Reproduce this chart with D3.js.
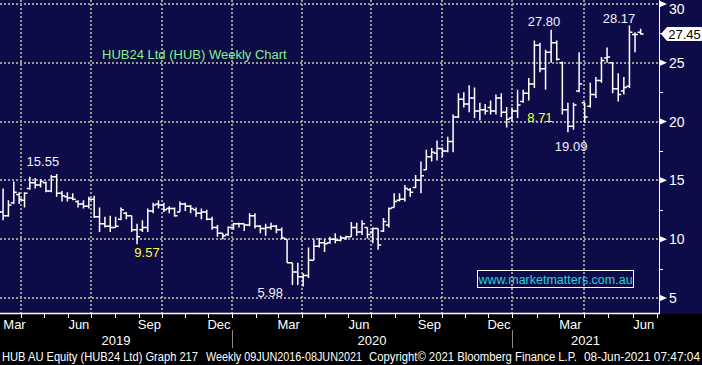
<!DOCTYPE html>
<html>
<head>
<meta charset="utf-8">
<script src="https://cdn.jsdelivr.net/npm/d3@7"></script>
<style>
  html, body { margin: 0; padding: 0; background: #000; }
  svg { display: block; font-family: "Liberation Sans", Arial, sans-serif; }
</style>
</head>
<body>
<svg id="chart" width="702" height="365"></svg>
<script>
// weekly bars, first bar dated Fri 1 Mar 2019
const barStart = new Date(2019, 2, 1);

const opens = [
  12.5, 12.3, 12.0, 13.1, 13.8, 13.3, 14.3, 14.8, 14.6, 14.8,
  14.1, 15.3, 13.9, 13.6, 13.5, 13.2, 13.0, 12.8, 13.4, 11.9,
  11.3, 11.1, 11.0, 11.7, 12.2, 12.0, 10.8, 10.8, 11.0, 12.4,
  13.0, 12.9, 12.6, 12.6, 12.3, 13.0, 12.8, 12.5, 12.2, 12.3,
  11.7, 11.0, 10.5, 10.4, 11.0, 11.3, 11.3, 11.2, 12.0, 11.1,
  10.9, 11.0, 11.1, 10.8, 10.0, 8.0, 7.2, 6.8, 6.9, 8.2,
  9.4, 9.7, 9.7, 10.0, 9.9, 10.1, 10.2, 11.0, 10.6, 11.0,
  10.6, 10.9, 10.7, 11.2, 12.7, 13.3, 13.4, 14.2, 14.4, 15.0,
  15.9, 17.0, 17.3, 17.7, 17.5, 18.3, 20.4, 21.9, 21.5, 22.0,
  20.9, 21.0, 21.2, 20.9, 22.0, 20.8, 20.3, 20.9, 21.7, 22.4,
  23.2, 26.5, 24.5, 25.9, 26.7, 25.0, 21.0, 19.6, 22.6, 21.6,
  21.3, 22.3, 23.5, 25.4, 25.0, 22.8, 22.6, 23.0, 27.4, 27.6
];
const highs = [
  13.6, 14.3, 13.3, 14.9, 14.0, 14.0, 15.3, 15.2, 15.1, 14.9,
  15.45, 15.55, 14.1, 14.0, 13.9, 13.3, 13.3, 13.6, 13.7, 12.7,
  11.9, 12.0, 11.9, 12.7, 12.3, 12.0, 11.3, 11.6, 12.6, 13.1,
  13.3, 13.1, 12.8, 12.7, 13.2, 13.1, 12.9, 12.7, 12.6, 12.5,
  11.9, 11.2, 10.5, 11.1, 11.4, 11.4, 11.3, 12.2, 12.2, 11.2,
  11.3, 11.4, 11.2, 11.0, 10.0, 8.0, 8.0, 7.1, 9.3, 10.0,
  10.1, 10.0, 10.2, 10.5, 10.3, 10.3, 11.45, 11.4, 11.6, 11.0,
  11.0, 10.9, 11.8, 12.7, 13.9, 13.9, 14.6, 14.35, 15.45, 16.6,
  17.6, 17.75, 18.4, 17.8, 18.7, 20.6, 22.4, 22.5, 23.1, 22.9,
  21.6, 21.5, 21.8, 22.3, 22.4, 21.25, 21.2, 22.7, 22.7, 23.7,
  26.9, 26.7, 26.1, 27.8, 26.9, 25.1, 21.6, 21.6, 25.9, 21.6,
  23.3, 23.8, 25.5, 26.3, 25.0, 24.1, 23.8, 28.17, 27.6, 27.9
];
const lows = [
  12.0, 11.6, 11.9, 13.0, 13.0, 12.7, 14.2, 14.3, 14.4, 14.0,
  14.0, 13.6, 13.2, 13.2, 13.3, 12.7, 12.6, 12.6, 11.8, 10.6,
  11.0, 10.6, 11.0, 11.6, 11.7, 10.6, 9.57, 10.6, 10.6, 12.2,
  12.6, 12.3, 12.2, 11.9, 12.3, 12.4, 12.2, 11.9, 11.7, 11.6,
  10.8, 10.2, 10.0, 10.3, 10.8, 11.0, 10.7, 11.1, 10.9, 10.5,
  10.3, 10.8, 10.5, 10.0, 8.0, 6.1, 6.1, 5.98, 6.7, 8.2,
  9.3, 8.9, 9.6, 9.65, 9.8, 9.95, 10.2, 10.3, 10.35, 10.05,
  9.65, 9.1, 10.6, 11.0, 12.7, 13.2, 13.2, 13.6, 14.35, 13.9,
  15.9, 16.6, 16.7, 17.0, 17.4, 17.4, 20.3, 21.2, 20.8, 20.3,
  20.1, 20.6, 20.6, 20.6, 20.4, 19.5, 20.0, 20.3, 21.6, 21.8,
  22.85, 24.2, 22.7, 25.0, 25.2, 20.6, 19.09, 19.3, 22.5, 19.9,
  21.2, 22.0, 23.3, 25.0, 22.4, 21.7, 22.3, 22.85, 25.9, 27.4
];
const closes = [
  12.3, 12.0, 12.9, 14.0, 13.4, 13.9, 14.8, 14.6, 14.9, 14.1,
  15.3, 13.9, 13.7, 13.5, 13.4, 13.0, 12.8, 13.4, 11.9, 11.3,
  11.1, 11.0, 11.1, 12.5, 12.0, 10.8, 10.2, 11.0, 12.4, 12.9,
  12.9, 12.5, 12.6, 12.0, 13.0, 12.8, 12.6, 12.2, 12.3, 11.7,
  11.0, 10.5, 10.3, 11.0, 11.3, 11.3, 11.2, 12.0, 11.1, 10.9,
  11.0, 11.1, 10.8, 10.1, 8.0, 7.2, 6.8, 6.9, 8.2, 9.4,
  9.7, 9.6, 10.0, 9.9, 10.1, 10.2, 11.0, 10.6, 11.3, 10.4,
  10.9, 9.5, 11.5, 12.6, 13.2, 13.4, 14.3, 14.0, 15.0, 15.4,
  17.0, 17.4, 17.7, 17.5, 18.3, 20.4, 21.9, 21.5, 22.0, 20.9,
  21.0, 20.9, 20.9, 22.0, 20.8, 20.2, 20.9, 21.4, 22.4, 23.2,
  26.5, 24.5, 25.9, 26.7, 25.3, 21.0, 19.6, 21.4, 23.2, 20.4,
  22.3, 23.5, 25.2, 25.5, 22.8, 22.3, 22.9, 27.6, 27.4, 27.45
];

const yTicks = [5, 10, 15, 20, 25, 30];
const yMinorTicks = [7.5, 12.5, 17.5, 22.5, 27.5];
const monthNames = ["Jan", "Feb", "Mar", "Apr", "May", "Jun", "Jul", "Aug", "Sep", "Oct", "Nov", "Dec"];
const years = [2019, 2020, 2021];
const lastPrice = 27.45;

// price call-outs: text, date and value of the label centre
const noteTexts = ["15.55", "9.57", "5.98", "8.71", "27.80", "19.09", "28.17"];
const noteDates = [
  new Date(2019, 3, 29), new Date(2019, 8, 12), new Date(2020, 1, 20), new Date(2021, 1, 5),
  new Date(2021, 1, 10), new Date(2021, 2, 16), new Date(2021, 4, 15)
];
const noteValues = [16.65, 8.91, 5.51, 20.39, 28.55, 17.93, 28.81];
const yellowNotes = ["9.57", "8.71"];

const svg = d3.select("#chart");
const width = 702, height = 365;
const plotRight = 659, plotBottom = 314;

const x = d3.scaleTime()
  .domain([new Date(2019, 2, 4), new Date(2020, 0, 1), new Date(2021, 0, 1), new Date(2021, 6, 4)])
  .range([0, 232, 512, plotRight]);
const y = d3.scaleLinear().domain([3.72, 30.34]).range([313, 0]);
const xStart = x.domain()[0], xEnd = x.domain()[3];

const weeks = closes.map((c, i) => ({
  date: d3.timeDay.offset(barStart, 7 * i),
  o: opens[i], h: highs[i], l: lows[i], c: c
}));

svg.append("rect").attr("width", width).attr("height", height).attr("fill", "#000");
svg.append("rect").attr("width", width).attr("height", plotBottom).attr("fill", "#0e0c48");

svg.append("defs").append("clipPath").attr("id", "plotClip")
  .append("rect").attr("width", plotRight).attr("height", plotBottom);

// dotted grid
const quarters = d3.timeMonth.every(3).range(xStart, xEnd)
  .filter(d => x(d) < plotRight - 5);
const grid = svg.append("g")
  .attr("stroke", "#9a9a9a")
  .attr("stroke-width", 2)
  .attr("stroke-dasharray", "2,2");
grid.selectAll("line.h")
  .data(yTicks)
  .join("line")
  .attr("class", "h")
  .attr("x1", 0).attr("x2", plotRight)
  .attr("y1", d => Math.round(y(d))).attr("y2", d => Math.round(y(d)));
grid.selectAll("line.v")
  .data(quarters)
  .join("line")
  .attr("class", "v")
  .attr("x1", d => Math.round(x(d))).attr("x2", d => Math.round(x(d)))
  .attr("y1", 0).attr("y2", plotBottom);

// OHLC bars
svg.append("g")
  .attr("clip-path", "url(#plotClip)")
  .selectAll("path")
  .data(weeks)
  .join("path")
  .attr("fill", "none")
  .attr("stroke", "#fff")
  .attr("stroke-width", 1.5)
  .attr("d", d => {
    const bx = x(d.date);
    return `M${bx},${y(d.h)}V${y(d.l)}M${bx - 3},${y(d.o)}H${bx}M${bx},${y(d.c)}H${bx + 3}`;
  });

// title and watermark
svg.append("text")
  .attr("x", 102).attr("y", 59)
  .attr("font-size", 13)
  .attr("fill", "#84f08c")
  .text("HUB24 Ltd (HUB) Weekly Chart");

svg.append("rect")
  .attr("x", 477.5).attr("y", 270.5)
  .attr("width", 156).attr("height", 17)
  .attr("fill", "none").attr("stroke", "#fff");
svg.append("text")
  .attr("x", 555.5).attr("y", 284)
  .attr("text-anchor", "middle")
  .attr("font-size", 12.5)
  .attr("fill", "#22d3dc")
  .text("www.marketmatters.com.au");

// call-outs
svg.append("g")
  .selectAll("text")
  .data(noteTexts)
  .join("text")
  .attr("x", (d, i) => x(noteDates[i]))
  .attr("y", (d, i) => y(noteValues[i]))
  .attr("dy", "0.36em")
  .attr("text-anchor", "middle")
  .attr("font-size", 13)
  .attr("fill", d => yellowNotes.includes(d) ? "#ffff30" : "#eef2ff")
  .text(d => d);

// right axis
const axisG = svg.append("g");
axisG.append("line")
  .attr("x1", plotRight + 0.5).attr("x2", plotRight + 0.5)
  .attr("y1", 0).attr("y2", plotBottom)
  .attr("stroke", "#fff");
axisG.selectAll("path.tri")
  .data(yTicks)
  .join("path")
  .attr("class", "tri")
  .attr("fill", "#fff")
  .attr("d", d => `M${plotRight},${y(d) - 3.5}L${plotRight + 8},${y(d)}L${plotRight},${y(d) + 3.5}Z`);
axisG.selectAll("line.minor")
  .data(yMinorTicks)
  .join("line")
  .attr("class", "minor")
  .attr("x1", plotRight).attr("x2", plotRight + 4)
  .attr("y1", d => Math.round(y(d)) + 0.5).attr("y2", d => Math.round(y(d)) + 0.5)
  .attr("stroke", "#fff");
axisG.selectAll("text")
  .data(yTicks)
  .join("text")
  .attr("x", 669)
  .attr("y", d => Math.max(y(d), 8.5))
  .attr("dy", "0.36em")
  .attr("font-size", 14)
  .attr("fill", "#fff")
  .text(d => d);

// last price tag
const ly = y(lastPrice);
svg.append("path")
  .attr("d", `M661.5,${ly}L667,${ly - 6.5}H701.5V${ly + 6.5}H667Z`)
  .attr("fill", "#fff")
  .attr("stroke", "#fff");
svg.append("text")
  .attr("x", 684.5).attr("y", ly)
  .attr("dy", "0.36em")
  .attr("text-anchor", "middle")
  .attr("font-size", 13)
  .attr("fill", "#000")
  .text(lastPrice.toFixed(2));

// bottom axis
const months = d3.timeMonth.range(d3.timeMonth.floor(xStart), xEnd);
const bottom = svg.append("g");
bottom.append("line")
  .attr("x1", 0).attr("x2", plotRight + 1)
  .attr("y1", plotBottom - 0.5).attr("y2", plotBottom - 0.5)
  .attr("stroke", "#fff").attr("stroke-width", 1.5);
bottom.selectAll("line.tick")
  .data(months.filter(d => x(d) >= 0))
  .join("line")
  .attr("class", "tick")
  .attr("x1", d => Math.round(x(d)) + 0.5).attr("x2", d => Math.round(x(d)) + 0.5)
  .attr("y1", plotBottom).attr("y2", plotBottom + 4)
  .attr("stroke", "#fff");
bottom.selectAll("text.month")
  .data(months.filter(d => d.getMonth() % 3 === 2))
  .join("text")
  .attr("class", "month")
  .attr("x", d => Math.max(x(new Date(d.getFullYear(), d.getMonth(), 15)), 14.5))
  .attr("y", 329)
  .attr("text-anchor", "middle")
  .attr("font-size", 13)
  .attr("fill", "#fff")
  .text(d => monthNames[d.getMonth()]);
bottom.selectAll("text.year")
  .data(years)
  .join("text")
  .attr("class", "year")
  .attr("x", d => {
    const a = Math.max(x(new Date(d, 0, 1)), 0);
    const b = Math.min(x(new Date(d + 1, 0, 1)), plotRight);
    return (a + b) / 2;
  })
  .attr("y", 345)
  .attr("text-anchor", "middle")
  .attr("font-size", 13)
  .attr("fill", "#fff")
  .text(d => d);
bottom.selectAll("line.year")
  .data(years.slice(1))
  .join("line")
  .attr("class", "year")
  .attr("x1", d => Math.round(x(new Date(d, 0, 1))) + 0.5)
  .attr("x2", d => Math.round(x(new Date(d, 0, 1))) + 0.5)
  .attr("y1", 330).attr("y2", 348)
  .attr("stroke", "#8a8a8a");

// footer
const footer = [
  ["HUB AU Equity (HUB24 Ltd) Graph 217", 2, 196],
  ["Weekly 09JUN2016-08JUN2021", 206, 156],
  ["Copyright\u00a9 2021 Bloomberg Finance L.P.", 369, 208],
  ["08-Jun-2021 07:47:04", 584, 116]
];
svg.append("g")
  .selectAll("text")
  .data(footer)
  .join("text")
  .attr("x", d => d[1])
  .attr("y", 361)
  .attr("font-size", 12)
  .attr("fill", "#fff")
  .attr("textLength", d => d[2])
  .attr("lengthAdjust", "spacingAndGlyphs")
  .text(d => d[0]);
</script>
</body>
</html>
